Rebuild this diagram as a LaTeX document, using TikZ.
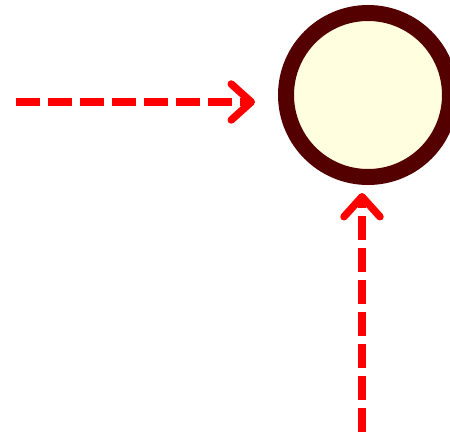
\documentclass[tikz,border=0pt]{standalone}
\usetikzlibrary{arrows.meta}
\definecolor{ringc}{HTML}{550000}
\definecolor{fillc}{HTML}{FFFFE0}
\tikzset{
  ring/.style={circle, draw=ringc, fill=fillc, line width=16pt, minimum size=164pt, inner sep=0pt},
  redarrow/.style={draw=red, line width=7.5pt, dash pattern=on 24pt off 8pt,
    -{Straight Barb[length=20pt, width=36pt, line cap=round, line join=round]}}
}
\begin{document}
\begin{tikzpicture}[x=1pt,y=-1pt]
\useasboundingbox (0,0) rectangle (450,433);
\node[ring] (c) at (368,95) {};
\coordinate (h1) at (16,102);
\coordinate (h2) at (255,102);
\coordinate (v1) at (362,432);
\coordinate (v2) at (362,193);
\draw[redarrow] (h1) -- (h2);
\draw[redarrow] (v1) -- (v2);
\end{tikzpicture}
\end{document}
